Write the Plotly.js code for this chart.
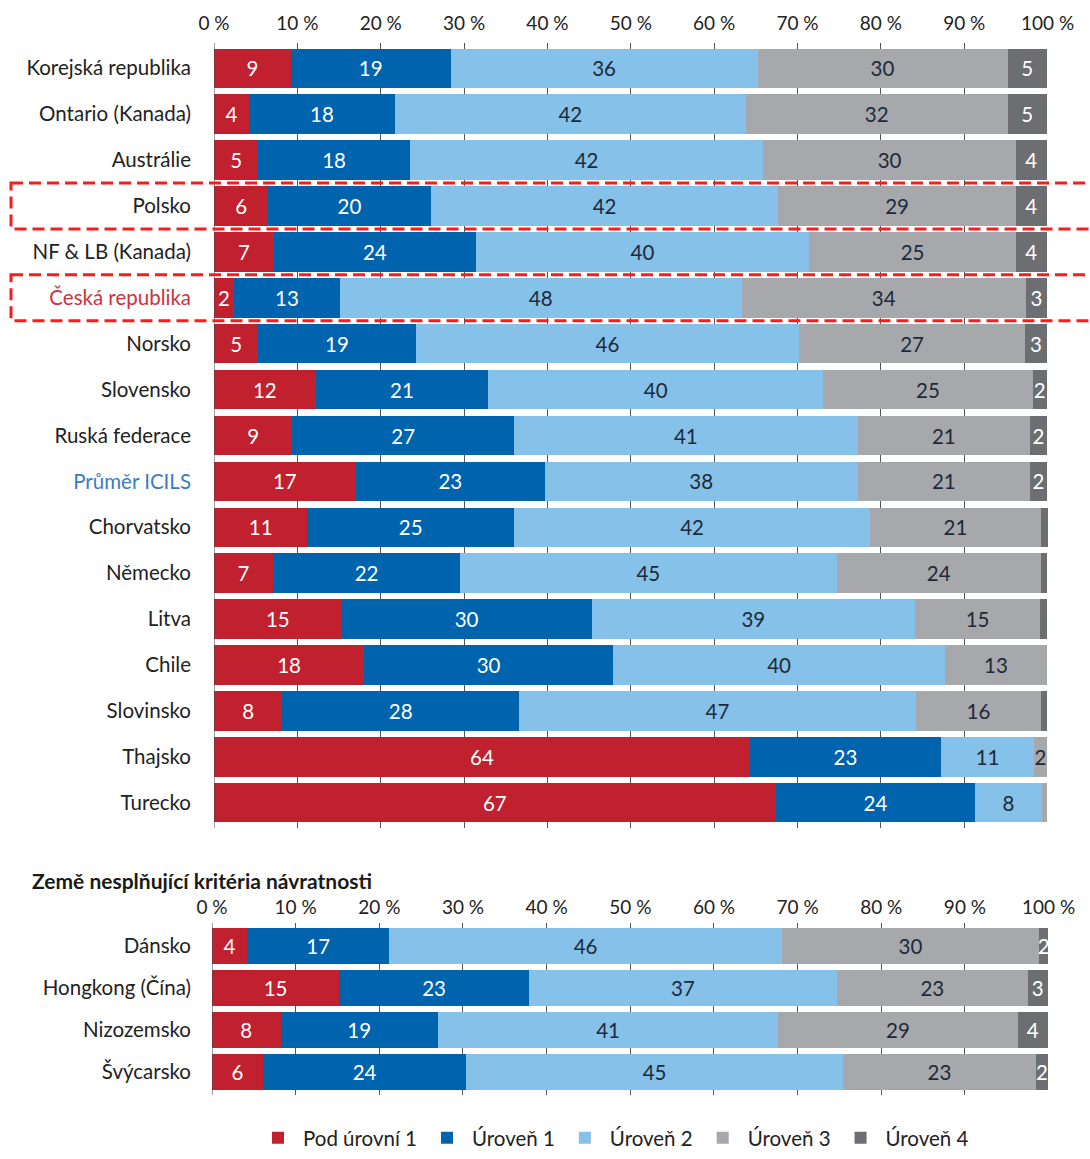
<!DOCTYPE html>
<html>
<head>
<meta charset="utf-8">
<script src="https://cdn.plot.ly/plotly-3.0.1.min.js"></script>
<style>html,body{margin:0;padding:0;background:#fff;}#chart{width:1090px;height:1159px;}</style>
</head>
<body>
<div id="chart"></div>
<script>
// ---- Data (top panel) ----
var countries = ["Korejská republika","Ontario (Kanada)","Austrálie","Polsko","NF & LB (Kanada)","Česká republika","Norsko","Slovensko","Ruská federace","Průměr ICILS","Chorvatsko","Německo","Litva","Chile","Slovinsko","Thajsko","Turecko"];
var pod = [9.2,4.2,5.3,6.5,7.2,2.4,5.3,12.2,9.4,17.0,11.2,7.1,15.3,18.0,8.2,64.3,67.4];
var lvl1 = [19.2,17.5,18.2,19.5,24.2,12.7,18.9,20.7,26.6,22.7,24.8,22.4,30.0,29.9,28.4,22.9,23.9];
var lvl2 = [36.8,42.1,42.4,41.7,40.0,48.2,46.0,40.2,41.2,37.5,42.7,45.2,38.8,39.8,47.6,11.2,8.0];
var lvl3 = [30.0,31.4,30.3,28.5,24.8,34.1,27.1,25.1,20.7,20.7,20.5,24.5,15.0,12.2,15.0,1.5,0.6];
var lvl4 = [4.7,4.7,3.7,3.7,3.7,2.5,2.6,1.7,2.0,2.0,0.8,0.7,0.8,0,0.7,0,0];
var podLbl = [9,4,5,6,7,2,5,12,9,17,11,7,15,18,8,64,67];
var lvl1Lbl = [19,18,18,20,24,13,19,21,27,23,25,22,30,30,28,23,24];
var lvl2Lbl = [36,42,42,42,40,48,46,40,41,38,42,45,39,40,47,11,8];
var lvl3Lbl = [30,32,30,29,25,34,27,25,21,21,21,24,15,13,16,2,""];
var lvl4Lbl = [5,5,4,4,4,3,3,2,2,2,"","","","","","",""];

// ---- Data (bottom panel) ----
var countries2 = ["Dánsko","Hongkong (Čína)","Nizozemsko","Švýcarsko"];
var pod2 = [4.2,15.2,8.2,6.1];
var lvl1b = [17.0,22.7,18.8,24.3];
var lvl2b = [46.9,36.8,40.7,45.0];
var lvl3b = [30.8,22.8,28.6,23.1];
var lvl4b = [1.0,2.4,3.6,1.4];
var pod2Lbl = [4,15,8,6];
var lvl1bLbl = [17,23,19,24];
var lvl2bLbl = [46,37,41,45];
var lvl3bLbl = [30,23,29,23];
var lvl4bLbl = [2,3,4,2];

var seriesNames = ["Pod úrovní 1","Úroveň 1","Úroveň 2","Úroveň 3","Úroveň 4"];
var xTicks = [0,10,20,30,40,50,60,70,80,90,100];
var panel2Title = "Země nesplňující kritéria návratnosti";

var colors = ["#c1202e","#0063ae","#85c1e9","#a7a8ac","#6d6e71"];
var txtColors = ["#ffffff","#ffffff","#1e2a3a","#1e2a3a","#ffffff"];
var FONT = "Lato, 'Open Sans', sans-serif";
var FS = 20.5;

var topVals = [pod,lvl1,lvl2,lvl3,lvl4];
var topLbls = [podLbl,lvl1Lbl,lvl2Lbl,lvl3Lbl,lvl4Lbl];
var botVals = [pod2,lvl1b,lvl2b,lvl3b,lvl4b];
var botLbls = [pod2Lbl,lvl1bLbl,lvl2bLbl,lvl3bLbl,lvl4bLbl];

var traces = [];
for (var i=0;i<5;i++){
  traces.push({
    type:'bar', orientation:'h', name:seriesNames[i], legendgroup:'g'+i,
    x:topVals[i], y:countries, xaxis:'x', yaxis:'y',
    marker:{color:colors[i], line:{width:0}},
    text:topLbls[i].map(String), textposition:'inside', insidetextanchor:'middle', textangle:0,
    textfont:{color:txtColors[i], size:FS, family:FONT},
    hoverinfo:'skip', cliponaxis:false
  });
}
for (var j=0;j<5;j++){
  traces.push({
    type:'bar', orientation:'h', name:seriesNames[j], legendgroup:'g'+j, showlegend:false,
    x:botVals[j], y:countries2, xaxis:'x2', yaxis:'y2',
    marker:{color:colors[j], line:{width:0}},
    text:botLbls[j].map(String), textposition:'inside', insidetextanchor:'middle', textangle:0,
    textfont:{color:txtColors[j], size:FS, family:FONT},
    hoverinfo:'skip', cliponaxis:false
  });
}

function styledTick(c){
  if (c === "Česká republika") return '<span style="color:#cc3340">'+c+'</span>';
  if (c === "Průměr ICILS") return '<span style="color:#3a7cc2">'+c+'</span>';
  return c;
}

var W=1090, H=1159;
var xaxisCommon = {
  range:[0,100.05], side:'top', tickmode:'array', tickvals:xTicks,
  ticktext:xTicks.map(function(v){return v+' %';}),
  showgrid:true, gridcolor:'#555555', gridwidth:1,
  zeroline:false, showline:false, ticks:'',
  tickfont:{size:19, family:FONT, color:'#222'}, fixedrange:true
};

var layout = {
  width:W, height:H,
  margin:{l:0,r:0,t:0,b:0,autoexpand:false},
  paper_bgcolor:'#ffffff', plot_bgcolor:'#ffffff',
  barmode:'stack', bargap:0.14,
  font:{family:FONT, color:'#222'},
  uniformtext:{mode:'show', minsize:FS},
  xaxis: Object.assign({}, xaxisCommon, {domain:[214/W, 1048/W], anchor:'y', ticklabelstandoff:8}),
  yaxis:{
    domain:[1-828/H, 1-43/H], anchor:'x',
    type:'category', categoryorder:'array', categoryarray:countries,
    range:[16.55,-0.55], tickmode:'array', tickvals:countries, ticktext:countries.map(styledTick),
    tickfont:{size:FS, family:FONT, color:'#222'}, ticks:'', ticklabelstandoff:22,
    showgrid:false, zeroline:false, showline:false, fixedrange:true
  },
  xaxis2: Object.assign({}, xaxisCommon, {domain:[212/W, 1049/W], anchor:'y2', ticklabelstandoff:4}),
  yaxis2:{
    domain:[1-1095/H, 1-923/H], anchor:'x2',
    type:'category', categoryorder:'array', categoryarray:countries2,
    range:[3.55,-0.55], tickmode:'array', tickvals:countries2, ticktext:countries2,
    tickfont:{size:FS, family:FONT, color:'#222'}, ticks:'', ticklabelstandoff:20,
    showgrid:false, zeroline:false, showline:false, fixedrange:true
  },
  legend:{orientation:'h', x:253/W, xanchor:'left', y:0.001, yanchor:'bottom',
    itemwidth:40, font:{size:FS, family:FONT, color:'#222'}, traceorder:'normal',
    itemclick:false, itemdoubleclick:false},
  annotations:[{
    text:'<b>'+panel2Title+'</b>', xref:'paper', yref:'paper',
    x:30/W, y:1-880/H, xanchor:'left', yanchor:'middle', showarrow:false,
    font:{size:21, family:FONT, color:'#1a1a1a'}
  }],
  shapes:[
    {type:'line', xref:'x', yref:'paper', x0:0, x1:0, y0:1-828/H, y1:1-43/H, line:{color:'#444', width:1}},
    {type:'line', xref:'x2', yref:'paper', x0:0, x1:0, y0:1-1095/H, y1:1-923/H, line:{color:'#444', width:1}},
    {type:'rect', xref:'paper', yref:'y', x0:11/W, x1:1.02, y0:2.5, y1:3.5,
      line:{color:'#ff1a1a', width:3, dash:'12px,6px'}, fillcolor:'rgba(0,0,0,0)', layer:'above'},
    {type:'rect', xref:'paper', yref:'y', x0:11/W, x1:1.02, y0:4.5, y1:5.5,
      line:{color:'#ff1a1a', width:3, dash:'12px,6px'}, fillcolor:'rgba(0,0,0,0)', layer:'above'}
  ]
};

Plotly.newPlot('chart', traces, layout, {displayModeBar:false, staticPlot:true});
</script>
</body>
</html>
